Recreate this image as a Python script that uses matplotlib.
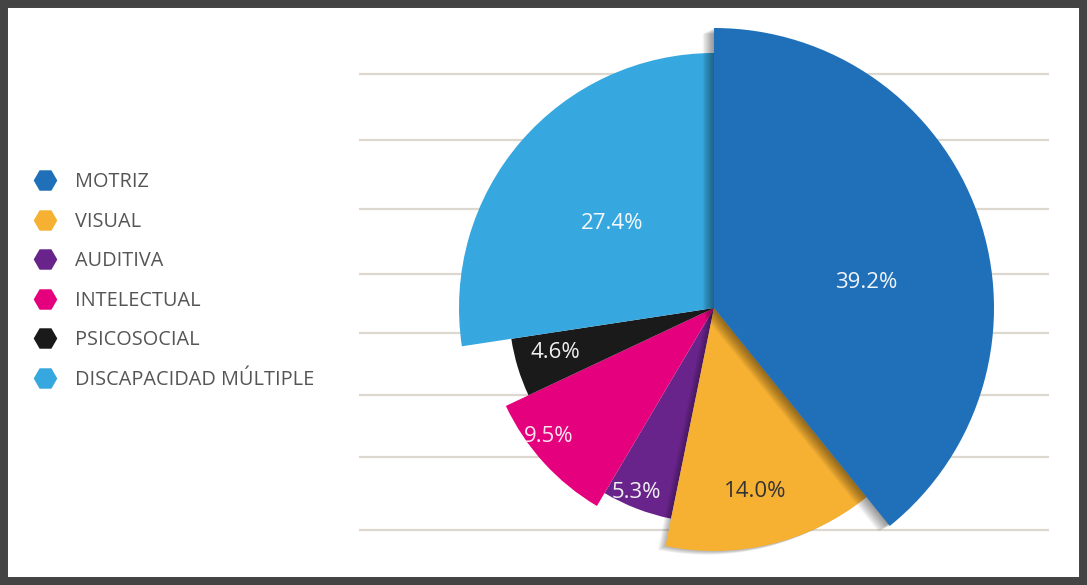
import matplotlib
matplotlib.use("Agg")
import matplotlib.pyplot as plt
import matplotlib.patheffects as pe
from matplotlib.lines import Line2D
from matplotlib.patches import Rectangle
import numpy as np

# datos
categorias = ["MOTRIZ", "VISUAL", "AUDITIVA", "INTELECTUAL", "PSICOSOCIAL",
              "DISCAPACIDAD MÚLTIPLE"]
porcentajes = [39.2, 14.0, 5.3, 9.5, 4.6, 27.4]
etiquetas = ["39.2%", "14.0%", "5.3%", "9.5%", "4.6%", "27.4%"]

# estilo
colores = ["#1f70b8", "#f6b133", "#68248a", "#e5007d", "#1a1a1a", "#37a8df"]
radios = [280, 243, 215, 230, 205, 255]
col_texto = ["#f2f4f8", "#333333", "#f0f0f0", "#fbe6f0", "#f0f0f0", "#f4f8fb"]
frac_txt = [0.55, 0.775, 0.93, 0.91, 0.805, 0.52]
giro_txt = [-10, -1.1, -1.7, -4.5, -1.1, 1.2]
lineas_y = [74, 140, 209, 274, 333, 395, 457, 530]

W, H = 1087, 585
centro = (714, H - 308)

plt.rcParams['font.family'] = ['Open Sans', 'DejaVu Sans']

fig = plt.figure(figsize=(W / 100, H / 100), dpi=100)
fig.patch.set_facecolor("white")
ax = fig.add_axes([0, 0, 1, 1])

# lineas horizontales del fondo
ax.hlines([H - y for y in lineas_y], 359, 1049, color="#dcd7cf", lw=1.6, zorder=0)

wedges, _ = ax.pie(porcentajes, colors=colores, startangle=90, counterclock=False,
                   center=centro, radius=1, wedgeprops=dict(linewidth=0))
for w, r in zip(wedges, radios):
    w.set_radius(r)

# sombras suaves
sombra = [pe.SimplePatchShadow(offset=(-k * 0.9, -k * 0.45), shadow_rgbFace="black",
                               alpha=0.05) for k in range(1, 10)] + [pe.Normal()]
wedges[0].set_path_effects(sombra)
wedges[0].set_zorder(3)
wedges[1].set_path_effects(sombra[:6] + [pe.Normal()])
wedges[1].set_zorder(2)

# etiquetas de porcentaje
for w, r, txt, c, f, g in zip(wedges, radios, etiquetas, col_texto, frac_txt, giro_txt):
    ang = np.deg2rad((w.theta1 + w.theta2) / 2 + g)
    x = centro[0] + f * r * np.cos(ang)
    y = centro[1] + f * r * np.sin(ang)
    ax.text(x, y, txt, ha="center", va="center", fontsize=16, color=c, zorder=6)

ax.set_xlim(0, W)
ax.set_ylim(0, H)
ax.set_aspect("equal")
ax.axis("off")

# leyenda
handles = [Line2D([], [], ls="none", marker="H", markersize=17, color=c,
                  markeredgewidth=0) for c in colores]
ax.legend(handles, categorias, loc="upper left", bbox_to_anchor=(35 / W, 1 - 172 / H),
          frameon=False, fontsize=14.3, labelcolor="#555555", labelspacing=0.985,
          handlelength=1.0, handletextpad=1.0, borderpad=0, borderaxespad=0)

# marco
fig.patches.append(Rectangle((0, 0), 1, 1, transform=fig.transFigure, fill=False,
                             edgecolor="#444444", linewidth=11.5, zorder=10))

fig.savefig("out.png", dpi=100)
